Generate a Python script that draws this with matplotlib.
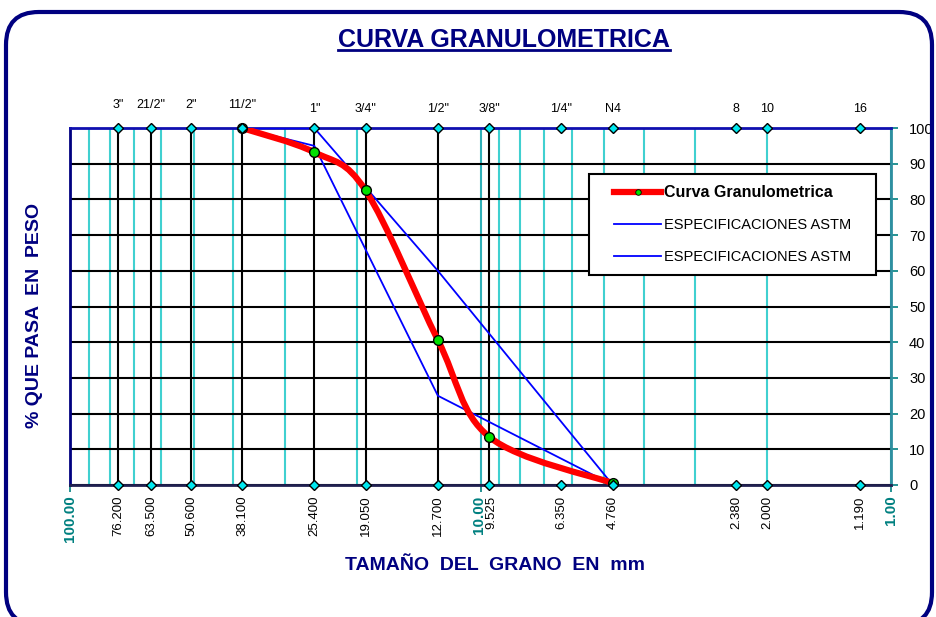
import numpy as np
import matplotlib
matplotlib.use("Agg")
import matplotlib.pyplot as plt
from matplotlib.path import Path
from matplotlib.patches import PathPatch, FancyBboxPatch
from matplotlib.lines import Line2D
from matplotlib.legend_handler import HandlerLine2D
from matplotlib.transforms import blended_transform_factory, offset_copy

plt.rcParams['font.family'] = ['Liberation Sans', 'DejaVu Sans']

# sieve sizes and their labels
sieve_labels = ['3"', '21/2"', '2"', '11/2"', '1"', '3/4"', '1/2"', '3/8"',
                '1/4"', 'N4', '8', '10', '16']
sieve_mm = [76.2, 63.5, 50.6, 38.1, 25.4, 19.05, 12.7, 9.525,
            6.35, 4.76, 2.38, 2.0, 1.19]
sieve_mm_text = ['76.200', '63.500', '50.600', '38.100', '25.400', '19.050',
                 '12.700', '9.525', '6.350', '4.760', '2.380', '2.000', '1.190']
drop_mm = [76.2, 63.5, 50.6, 38.1, 25.4, 19.05, 12.7, 9.525]

# grading curve
curve_mm = [38.1, 25.4, 19.05, 12.7, 9.525, 4.76]
curve_pass = [100, 93.2, 82.5, 40.6, 13.5, 0.5]

# ASTM limits
spec_up_mm = [38.1, 25.4, 12.7, 4.76]
spec_up = [100, 100, 60, 0]
spec_low_mm = [38.1, 25.4, 12.7, 4.76]
spec_low = [100, 95, 25, 0]

decades = [100, 10, 1]
decade_text = ['100.00', '10.00', '1.00']

NAVY = '#000080'
TEAL = '#008080'
CYAN = '#40d0d0'

fig = plt.figure(figsize=(9.36, 6.17), dpi=100)
W, H = 936, 617

# rounded outer frame
frame = FancyBboxPatch((6 / W, -8 / H), 926 / W, (H - 12 + 8) / H,
                       boxstyle="round,pad=0,rounding_size=0.035",
                       transform=fig.transFigure, fill=False,
                       edgecolor=NAVY, lw=3, mutation_aspect=W / H)
fig.add_artist(frame)

ax = fig.add_axes([70 / W, (H - 485) / H, (891 - 70) / W, (485 - 128) / H])
ax.set_xscale('log')
ax.set_xlim(100, 1)
ax.set_ylim(0, 100)

# grid
ax.set_xticks(decades)
ax.set_xticklabels([])
ax.tick_params(axis='x', which='major', length=5, color=TEAL, width=1.2)
ax.tick_params(axis='x', which='minor', length=0)
ax.xaxis.grid(True, which='minor', color=CYAN, lw=1.5)
ax.xaxis.grid(True, which='major', color='#30b0b8', lw=1.5)
ax.set_yticks(np.arange(0, 101, 10))
ax.yaxis.tick_right()
ax.tick_params(axis='y', length=5, color=TEAL, width=1.2, labelsize=10.5, pad=8)
ax.yaxis.grid(True, color='black', lw=1.5)
ax.set_axisbelow(True)

ax.spines['left'].set_color(NAVY)
ax.spines['top'].set_color('#1010b0')
ax.spines['bottom'].set_color('#202050')
ax.spines['right'].set_color('#2f8fa0')
for s in ax.spines.values():
    s.set_linewidth(2)

# drop lines at sieves
for m in drop_mm:
    ax.plot([m, m], [0, 100], color='black', lw=1.5, zorder=2)

# spec lines
ax.plot(spec_up_mm, spec_up, color='#0000ff', lw=1.3, zorder=3)
ax.plot(spec_low_mm, spec_low, color='#0000ff', lw=1.3, zorder=3)

# smoothed grading curve (Catmull-Rom as bezier in log space)
u = np.log10(curve_mm)
v = np.array(curve_pass, dtype=float)
pts = np.column_stack([u, v])
ext = np.vstack([pts[0], pts, pts[-1]])
verts = [pts[0]]
codes = [Path.MOVETO]
for i in range(len(pts) - 1):
    p0, p1, p2, p3 = ext[i], ext[i + 1], ext[i + 2], ext[i + 3]
    c1 = p1 + (p2 - p0) / 6
    c2 = p2 - (p3 - p1) / 6
    verts += [c1, c2, p2]
    codes += [Path.CURVE4] * 3
verts = np.array(verts)
verts[:, 0] = 10 ** verts[:, 0]
ax.add_patch(PathPatch(Path(verts, codes), fill=False, edgecolor='#ff0000',
                       lw=4.5, capstyle='round', joinstyle='round', zorder=4))
ax.plot(curve_mm, curve_pass, 'o', color='#00e000', mec='black', mew=1,
        ms=7, zorder=5, clip_on=False)

# sieve markers top and bottom
ax.plot(sieve_mm, [100] * len(sieve_mm), 'D', color='#00e8f0', mec='black',
        mew=1, ms=5, zorder=6, clip_on=False)
ax.plot(sieve_mm, [0] * len(sieve_mm), 'D', color='#00e8f0', mec='black',
        mew=1, ms=5, zorder=6, clip_on=False)

trans = blended_transform_factory(ax.transData, ax.transAxes)
for i, (m, lab) in enumerate(zip(sieve_mm, sieve_labels)):
    yy = 1.048 if i < 4 else 1.037
    ax.text(m, yy, lab, transform=trans, ha='center', va='bottom', fontsize=9)
for m, lab in zip(sieve_mm, sieve_mm_text):
    t = offset_copy(trans, fig=fig, x=2 if m == 9.525 else 0, y=0, units='dots')
    ax.text(m, -0.03, lab, transform=t, ha='center', va='top',
            rotation=90, fontsize=9.5)
for d, lab in zip(decades, decade_text):
    t = offset_copy(trans, fig=fig, x=-2 if d == 10 else 0, y=0, units='dots')
    ax.text(d, -0.03, lab, transform=t, ha='center', va='top',
            rotation=90, fontsize=11, fontweight='bold', color=TEAL)

# legend
handles = [Line2D([], [], color='#ff0000', lw=4.5, marker='o', ms=4,
                  mfc='#00e000', mec='black', mew=0.6),
           Line2D([], [], color='#0000ff', lw=1.3),
           Line2D([], [], color='#0000ff', lw=1.3)]
labels = ['Curva Granulometrica', 'ESPECIFICACIONES ASTM', 'ESPECIFICACIONES ASTM']
leg = ax.legend(handles, labels, loc='upper left',
                bbox_to_anchor=(0.632, 0.594, 0.35, 0.277), mode='expand',
                fontsize=10.5, frameon=True, fancybox=False, edgecolor='black',
                framealpha=1, handlelength=4.2, labelspacing=1.25,
                borderpad=0.75, handletextpad=0.2, borderaxespad=0,
                handler_map={Line2D: HandlerLine2D(xpad=1.0)})
leg.get_frame().set_linewidth(1.5)
leg.get_texts()[0].set_fontweight('bold')
leg.get_texts()[0].set_fontsize(11.5)

# axis titles
fig.text(35 / W, 1 - 315 / H, '% QUE PASA  EN  PESO', rotation=90, ha='center',
         va='center', fontsize=14, fontweight='bold', color=NAVY)
fig.text(495 / W, 1 - 565 / H, 'TAMAÑO  DEL  GRANO  EN  mm', ha='center',
         va='center', fontsize=14, fontweight='bold', color=NAVY)

title = fig.text(504 / W, 1 - 40 / H, 'CURVA GRANULOMETRICA', ha='center',
                 va='center', fontsize=18, fontweight='bold', color=NAVY)
fig.canvas.draw()
bb = title.get_window_extent().transformed(fig.transFigure.inverted())
fig.add_artist(Line2D([bb.x0, bb.x1], [bb.y0 + 0.003, bb.y0 + 0.003],
                      transform=fig.transFigure, color=NAVY, lw=2))

fig.savefig('out.png', dpi=100)
